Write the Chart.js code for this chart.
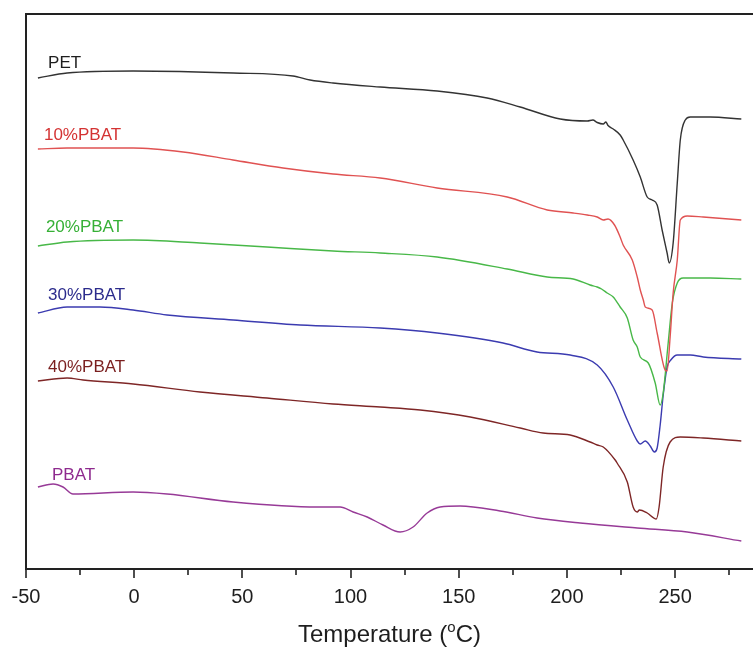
<!DOCTYPE html>
<html>
<head>
<meta charset="utf-8">
<script src="https://cdn.jsdelivr.net/npm/chart.js@4/dist/chart.umd.min.js"></script>
<style>
  html, body { margin: 0; padding: 0; background: #fff; }
  #c { display: block; }
</style>
</head>
<body>
<canvas id="c" width="753" height="648"></canvas>
<script>
// DSC heating curves: temperature (°C) vs heat flow (arbitrary units, curves offset vertically)

const seriesNames = ['PET', '10%PBAT', '20%PBAT', '30%PBAT', '40%PBAT', 'PBAT'];

const tempPET = [-44.5, -31.0, -0.5, 45.7, 73.4, 81.3, 91.9, 113.7, 140.0, 163.1, 178.4, 196.9, 209.4, 212.0, 214.0, 216.8, 218.0, 219.0, 221.4, 224.6, 226.0, 230.6, 233.9, 237.1, 239.4, 241.7, 244.0, 246.3, 247.3, 249.1, 251.0, 252.4, 254.7, 257.0, 266.2, 280.6];
const hfPET   = [98.2, 99.2, 99.6, 99.2, 98.6, 97.8, 97.2, 96.4, 95.6, 94.2, 92.4, 90.0, 89.6, 89.8, 89.3, 89.0, 89.4, 88.7, 88.0, 86.8, 85.8, 81.8, 78.4, 74.4, 73.8, 72.8, 67.8, 63.2, 61.2, 65.2, 77.2, 85.8, 89.8, 90.4, 90.4, 90.0];

const temp10 = [-44.5, -31.0, -0.5, 22.6, 45.7, 68.8, 91.9, 113.7, 140.0, 172.4, 190.9, 202.9, 209.4, 214.0, 216.8, 219.0, 222.0, 224.6, 226.0, 230.2, 232.5, 233.9, 235.3, 236.2, 239.4, 241.7, 245.4, 246.3, 247.7, 249.1, 251.0, 252.4, 255.6, 263.0, 280.6];
const hf10   = [84.0, 84.2, 84.2, 83.4, 81.8, 80.2, 79.0, 78.2, 76.2, 74.4, 71.8, 71.2, 70.8, 70.4, 69.8, 70.0, 68.8, 66.4, 64.8, 61.8, 58.4, 55.8, 53.8, 52.4, 51.8, 47.2, 39.8, 39.6, 46.4, 55.2, 61.8, 69.8, 70.6, 70.4, 69.8];

const temp20 = [-44.5, -31.0, -0.5, 30.4, 61.4, 91.9, 113.7, 140.0, 172.4, 190.9, 202.9, 210.7, 214.0, 216.0, 218.6, 221.4, 224.6, 227.9, 230.6, 232.5, 233.9, 237.6, 240.8, 243.1, 244.5, 246.8, 248.7, 251.0, 253.7, 266.2, 280.6];
const hf20   = [64.6, 65.4, 65.8, 65.2, 64.4, 63.6, 63.2, 62.4, 60.0, 58.4, 58.0, 56.8, 56.4, 56.0, 55.2, 54.4, 52.4, 50.2, 45.8, 44.4, 42.4, 41.2, 37.2, 32.8, 35.2, 45.2, 53.2, 57.2, 58.2, 58.2, 58.0];

const temp30 = [-44.5, -31.0, -15.8, -0.5, 15.2, 45.7, 76.7, 113.7, 140.0, 170.5, 186.2, 201.5, 214.0, 221.4, 227.9, 232.5, 233.9, 236.2, 238.5, 240.4, 241.7, 243.1, 244.5, 246.3, 248.0, 251.0, 257.0, 263.0, 280.6];
const hf30   = [51.2, 52.4, 52.4, 51.8, 50.8, 49.8, 48.8, 48.2, 47.2, 45.2, 43.4, 42.8, 40.8, 36.4, 29.8, 25.6, 25.0, 25.6, 24.6, 23.4, 24.2, 28.8, 34.8, 40.4, 41.8, 42.8, 42.8, 42.4, 42.0];

const temp40 = [-44.5, -31.0, -23.6, -0.5, 30.4, 61.4, 91.9, 113.7, 132.2, 155.3, 178.4, 189.0, 201.5, 210.7, 214.0, 216.8, 222.3, 223.2, 227.9, 230.6, 232.5, 233.5, 237.1, 241.3, 242.6, 244.5, 247.7, 252.4, 263.0, 280.6];
const hf40   = [37.6, 38.2, 37.8, 37.0, 35.4, 34.2, 33.0, 32.4, 31.8, 30.4, 28.2, 27.2, 26.8, 25.4, 24.8, 24.4, 21.8, 21.2, 17.4, 12.4, 11.4, 11.8, 11.2, 10.0, 12.4, 20.4, 25.4, 26.4, 26.2, 25.6];

const tempPBAT = [-44.5, -37.5, -32.9, -28.3, -0.5, 15.2, 45.7, 84.5, 95.2, 101.2, 107.7, 115.0, 122.9, 128.9, 135.4, 141.4, 150.6, 169.1, 186.2, 206.1, 232.5, 255.6, 280.6];
const hfPBAT   = [16.4, 17.0, 16.4, 15.0, 15.4, 15.0, 13.4, 12.4, 12.4, 11.4, 10.4, 8.8, 7.4, 8.4, 11.2, 12.4, 12.6, 11.6, 10.2, 9.2, 8.2, 7.4, 5.6];

// where each curve name sits (temperature, heat flow of the text baseline)
const labelTemps = [-39.8, -41.7, -40.8, -39.8, -39.8, -38.0];
const labelHF    = [100.2, 85.8, 67.4, 53.8, 39.4, 17.8];

const xTickValues = [-50, -25, 0, 25, 50, 75, 100, 125, 150, 175, 200, 225, 250, 275];

const lineColors = ['#333333', '#e05252', '#48b848', '#3b3bb0', '#7e2626', '#973a97'];
const textColors = ['#1e1e1e', '#d43333', '#36b036', '#2b2b8c', '#7a1f1f', '#8e2a8e'];

const temps = [tempPET, temp10, temp20, temp30, temp40, tempPBAT];
const flows = [hfPET, hf10, hf20, hf30, hf40, hfPBAT];

const FONT = "'Liberation Sans', Arial, sans-serif";

const datasets = seriesNames.map((name, i) => ({
  label: name,
  data: temps[i].map((t, k) => ({ x: t, y: flows[i][k] })),
  borderColor: lineColors[i],
  borderWidth: 1.4,
  pointRadius: 0,
  cubicInterpolationMode: 'monotone',
  fill: false
}));

// frame, tick marks, curve names and the axis title
const decor = {
  id: 'decor',
  afterDraw(chart) {
    const { ctx, chartArea: a, scales } = chart;
    const xs = scales.x, ys = scales.y;
    ctx.save();
    ctx.strokeStyle = '#222';
    ctx.lineWidth = 2;
    ctx.beginPath();
    ctx.moveTo(a.left, a.bottom);
    ctx.lineTo(a.left, a.top);
    ctx.lineTo(a.right, a.top);
    ctx.moveTo(a.left - 1, a.bottom);
    ctx.lineTo(a.right, a.bottom);
    ctx.stroke();

    ctx.lineWidth = 1.6;
    xTickValues.forEach(v => {
      const px = Math.round(xs.getPixelForValue(v));
      const len = (v % 50 === 0) ? 9 : 6;
      ctx.beginPath();
      ctx.moveTo(px, a.bottom);
      ctx.lineTo(px, a.bottom + len);
      ctx.stroke();
    });

    ctx.font = '17px ' + FONT;
    ctx.textAlign = 'left';
    ctx.textBaseline = 'alphabetic';
    seriesNames.forEach((name, i) => {
      ctx.fillStyle = textColors[i];
      ctx.fillText(name, xs.getPixelForValue(labelTemps[i]), ys.getPixelForValue(labelHF[i]));
    });

    // "Temperature (°C)" with a raised small o
    const big = '24px ' + FONT, small = '15px ' + FONT;
    const p1 = 'Temperature (', p2 = 'o', p3 = 'C)';
    ctx.font = big; const w1 = ctx.measureText(p1).width, w3 = ctx.measureText(p3).width;
    ctx.font = small; const w2 = ctx.measureText(p2).width;
    const total = w1 + w2 + w3;
    let x0 = (a.left + a.right) / 2 - total / 2;
    const base = 642;
    ctx.fillStyle = '#1e1e1e';
    ctx.font = big; ctx.fillText(p1, x0, base);
    ctx.font = small; ctx.fillText(p2, x0 + w1, base - 10);
    ctx.font = big; ctx.fillText(p3, x0 + w1 + w2, base);
    ctx.restore();
  }
};

new Chart(document.getElementById('c'), {
  type: 'line',
  data: { datasets },
  options: {
    responsive: false,
    devicePixelRatio: 1,
    animation: false,
    layout: { padding: { left: 26, top: 14, right: 0, bottom: 0 } },
    plugins: { legend: { display: false }, tooltip: { enabled: false } },
    scales: {
      x: {
        type: 'linear',
        min: -50,
        max: 286,
        afterBuildTicks: s => { s.ticks = xTickValues.map(v => ({ value: v })); },
        afterFit: s => { s.height = 79; s.paddingLeft = 0; s.paddingRight = 0; },
        grid: { display: false, drawTicks: false },
        border: { display: false },
        ticks: {
          autoSkip: false,
          maxRotation: 0,
          padding: 16,
          color: '#1e1e1e',
          font: { family: FONT, size: 20 },
          callback: v => (v % 50 === 0 ? String(v) : '')
        }
      },
      y: {
        type: 'linear',
        min: 0,
        max: 111,
        display: false
      }
    }
  },
  plugins: [decor]
});
</script>
</body>
</html>
